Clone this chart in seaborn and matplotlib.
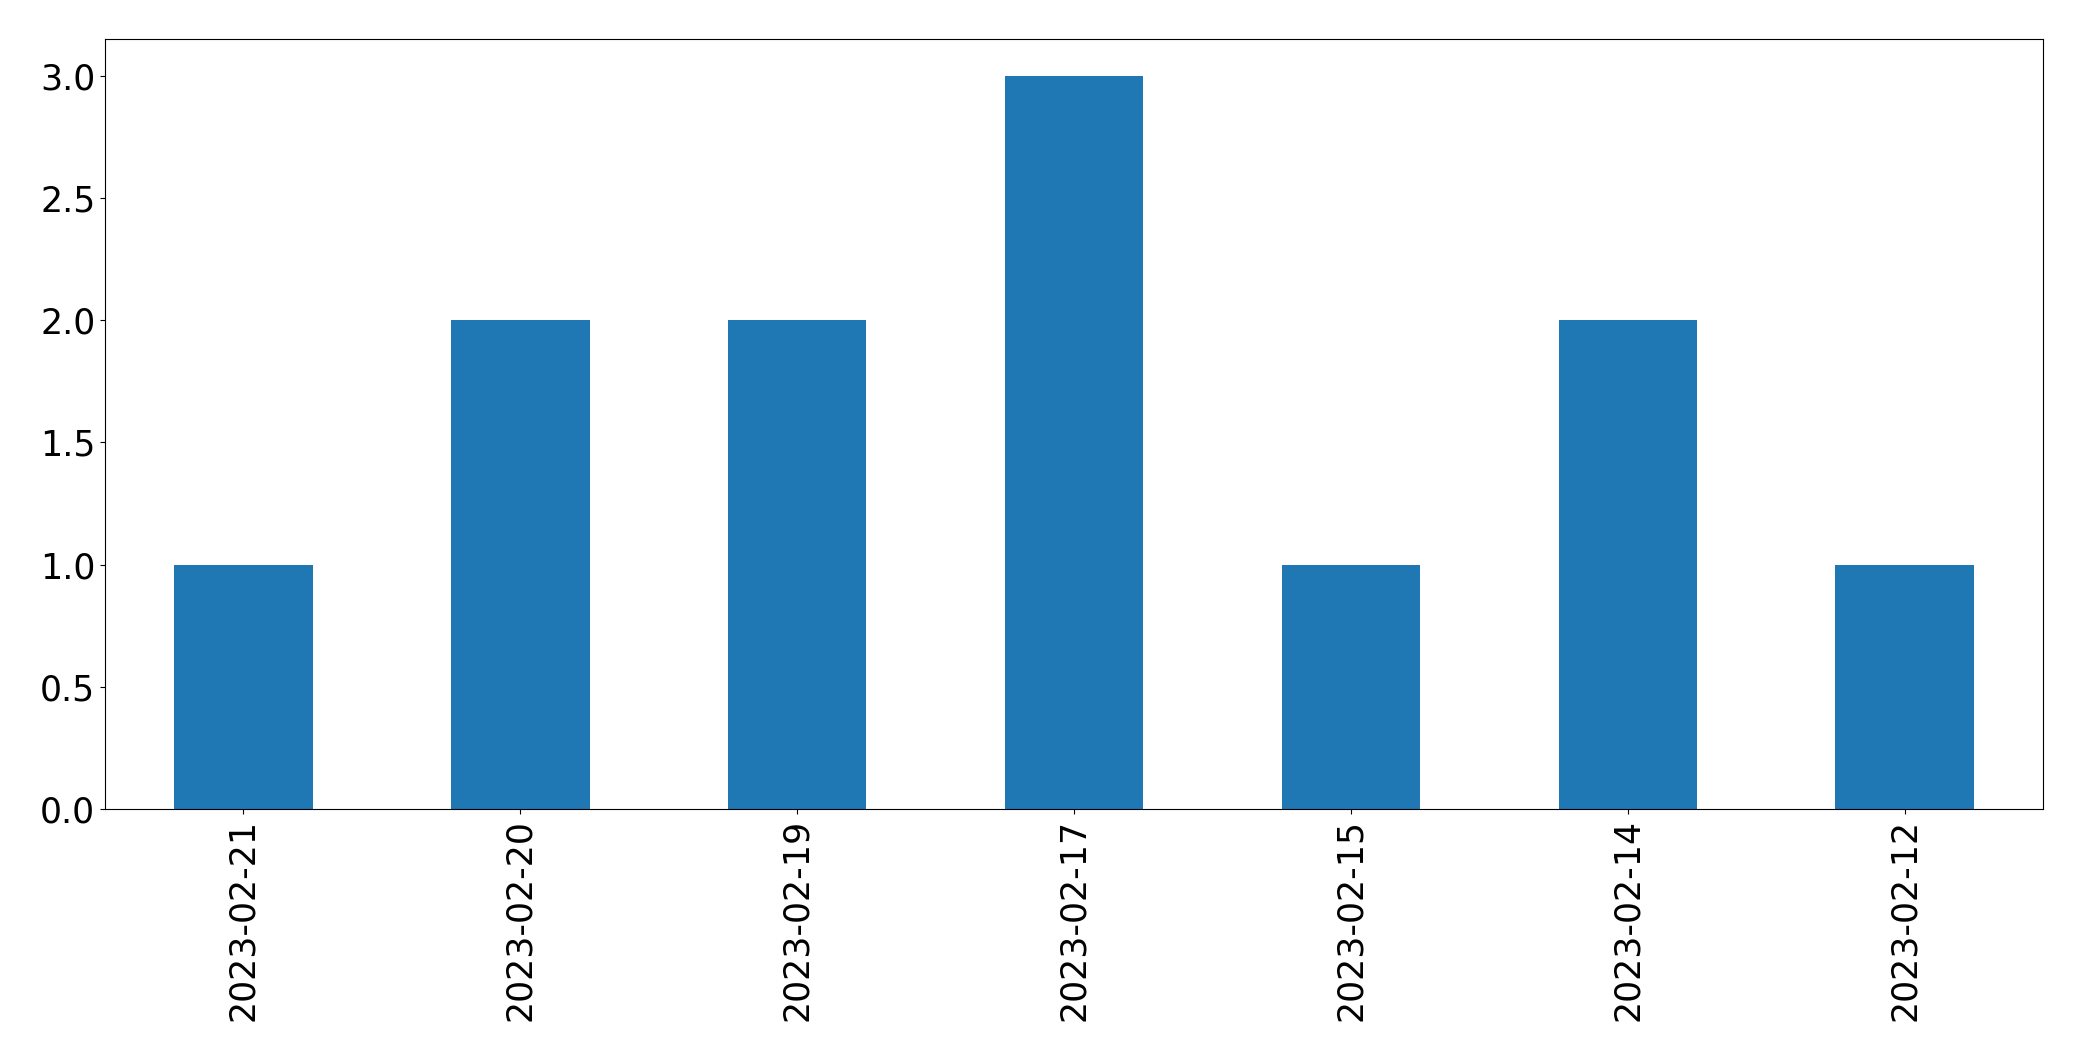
import matplotlib
matplotlib.use("Agg")
import matplotlib.pyplot as plt
import seaborn as sns
import pandas as pd

dates = ["2023-02-21", "2023-02-20", "2023-02-19", "2023-02-17",
         "2023-02-15", "2023-02-14", "2023-02-12"]
counts = [1, 2, 2, 3, 1, 2, 1]

df = pd.DataFrame({"date": dates, "count": counts})

fig = plt.figure(figsize=(20.82, 10.61), dpi=100)
ax = fig.add_axes([105 / 2082, 1 - 809 / 1061, (2043 - 105) / 2082, (809 - 39) / 1061])
sns.barplot(data=df, x="date", y="count", order=dates, color="#1f77b4",
            saturation=1, width=0.5, ax=ax, errorbar=None)
ax.set_xlim(-0.5, len(dates) - 0.5)
ax.set_ylim(0, 3.15)
ax.set_xlabel("")
ax.set_ylabel("")
ax.tick_params(axis="both", labelsize=25)
for lbl in ax.get_xticklabels():
    lbl.set_rotation(90)
for s in ax.spines.values():
    s.set_visible(True)
    s.set_color("black")
fig.savefig("out.png", dpi=100)
